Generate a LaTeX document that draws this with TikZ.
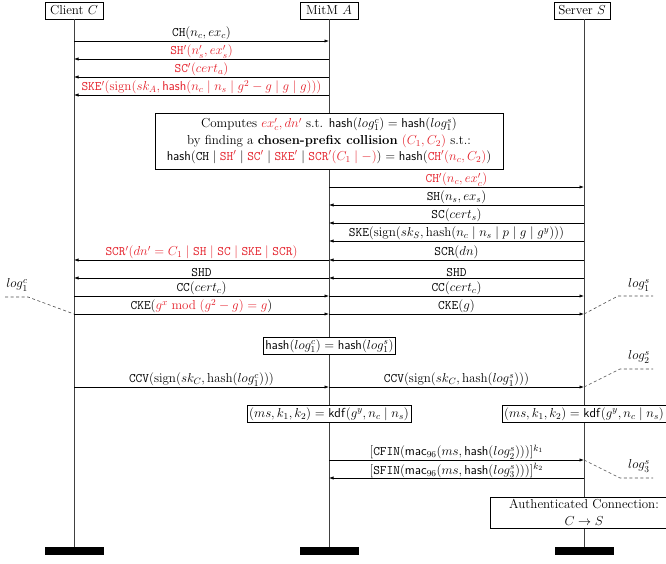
\RequirePackage{fix-cm}
\documentclass[tikz,border=0pt]{standalone}
\usepackage{amsmath,amssymb}
\usetikzlibrary{arrows.meta}
\definecolor{myred}{RGB}{228,32,42}
\newcommand{\tm}[1]{\texttt{#1}}
\begin{document}
\begin{tikzpicture}[x=1pt,y=-1pt,
  font=\fontsize{13}{16.5}\selectfont,
  hdr/.style={draw, fill=white, inner sep=1.5pt, minimum height=17pt},
  bar/.style={fill=black, minimum width=59pt, minimum height=8pt, inner sep=0pt},
  life/.style={draw=black!75, line width=0.6pt},
  msgarr/.style={-{Latex[length=4.5pt,width=3.2pt]}, line width=0.6pt},
  lbl/.style={above, inner sep=0.6pt},
  rlbl/.style={above, inner sep=0.6pt, text=myred},
  infobox/.style={draw, fill=white, align=center, inner sep=3pt, line width=0.6pt},
  logline/.style={draw=black!70, dash pattern=on 3pt off 2.5pt, line width=0.6pt},
  loglbl/.style={inner sep=0pt},
]
\useasboundingbox (0,0) rectangle (666,563);

% participants
\node[hdr, minimum width=58pt] (C) at (74,10.5) {Client $C$};
\node[hdr, minimum width=58pt] (A) at (329,10.5) {MitM $A$};
\node[hdr, minimum width=56pt] (S) at (582,10.5) {Server $S$};
\node[bar] (Cb) at (74.5,551) {};
\node[bar] (Ab) at (329.5,551) {};
\node[bar] (Sb) at (584,551) {};
\draw[life] (C.south) -- (C.south|-Cb.north);
\draw[life] (A.south) -- (A.south|-Ab.north);
\draw[life] (S.south-|Sb.north) -- (Sb.north);

% rows
\foreach \n/\y in {r1/41,r2/59,r3/77,r4/95,r5/187,r6/205,r7/223,r8/241,r9/260,r10/278,r11/296,r12/314,r13/387,r14/460,r15/478}
  \coordinate (\n) at (0,\y);
\coordinate (cx) at (74,0);
\coordinate (ax) at (329,0);
\coordinate (sx) at (584,0);

\node[infobox, minimum width=348pt, minimum height=56pt, inner sep=2pt] (comp) at (329,141)
 {Computes \textcolor{myred}{$ex_c', dn'$} s.t. $\mathsf{hash}(log_1^c) = \mathsf{hash}(log_1^s)$\\
  by finding a \textbf{chosen-prefix collision} \textcolor{myred}{$(C_1, C_2)$} s.t.:\\
  $\mathsf{hash}(\tm{CH} \mid \textcolor{myred}{\tm{SH}'} \mid \textcolor{myred}{\tm{SC}'} \mid \textcolor{myred}{\tm{SKE}'} \mid \textcolor{myred}{\tm{SCR}'(C_1 \mid -)}) = \mathsf{hash}(\textcolor{myred}{\tm{CH}'(n_c, C_2)})$};

% messages
\draw[msgarr] (cx|-r1) -- node[lbl] {\tm{CH}$(n_c, ex_c)$} (ax|-r1);
\draw[msgarr] (ax|-r2) -- node[rlbl] {\tm{SH}$'(n_s', ex_s')$} (cx|-r2);
\draw[msgarr] (ax|-r3) -- node[rlbl] {\tm{SC}$'(cert_a)$} (cx|-r3);
\draw[msgarr] (ax|-r4) -- node[rlbl] {\tm{SKE}$'(\mathrm{sign}(sk_A, \mathsf{hash}(n_c \mid n_s \mid g^2-g \mid g \mid g)))$} (cx|-r4);

\draw[msgarr] (ax|-r5) -- node[rlbl] {\tm{CH}$'(n_c, ex_c')$} (sx|-r5);
\draw[msgarr] (sx|-r6) -- node[lbl] {\tm{SH}$(n_s, ex_s)$} (ax|-r6);
\draw[msgarr] (sx|-r7) -- node[lbl] {\tm{SC}$(cert_s)$} (ax|-r7);
\draw[msgarr] (sx|-r8) -- node[lbl] {\tm{SKE}$(\mathrm{sign}(sk_S, \mathrm{hash}(n_c \mid n_s \mid p \mid g \mid g^y)))$} (ax|-r8);
\draw[msgarr] (sx|-r9) -- node[lbl] {\tm{SCR}$(dn)$} (ax|-r9);
\draw[msgarr] (ax|-r9) -- node[rlbl] {\tm{SCR}$'(dn' = C_1 \mid \tm{SH} \mid \tm{SC} \mid \tm{SKE} \mid \tm{SCR})$} (cx|-r9);
\draw[msgarr] (sx|-r10) -- node[lbl] {\tm{SHD}} (ax|-r10);
\draw[msgarr] (ax|-r10) -- node[lbl] {\tm{SHD}} (cx|-r10);
\draw[msgarr] (cx|-r11) -- node[lbl] {\tm{CC}$(cert_c)$} (ax|-r11);
\draw[msgarr] (ax|-r11) -- node[lbl] {\tm{CC}$(cert_c)$} (sx|-r11);
\draw[msgarr] (cx|-r12) -- node[lbl] {\tm{CKE}(\textcolor{myred}{$g^x \bmod (g^2-g) = g$})} (ax|-r12);
\draw[msgarr] (ax|-r12) -- node[lbl] {\tm{CKE}$(g)$} (sx|-r12);

\node[infobox, inner sep=2pt] (hb) at (329.5,346) {$\mathsf{hash}(log_1^c) = \mathsf{hash}(log_1^s)$};

\draw[msgarr] (cx|-r13) -- node[lbl] {\tm{CCV}$(\mathrm{sign}(sk_C, \mathrm{hash}(log_1^c)))$} (ax|-r13);
\draw[msgarr] (ax|-r13) -- node[lbl] {\tm{CCV}$(\mathrm{sign}(sk_C, \mathrm{hash}(log_1^s)))$} (sx|-r13);

\node[infobox, inner sep=2pt] (kdfa) at (329,414) {$(ms, k_1, k_2) = \mathsf{kdf}(g^y, n_c \mid n_s)$};
\node[infobox, inner sep=2pt] (kdfs) at (584,414) {$(ms, k_1, k_2) = \mathsf{kdf}(g^y, n_c \mid n_s)$};

\draw[msgarr] (ax|-r14) -- node[lbl] {$[\tm{CFIN}(\mathsf{mac}_{96}(ms, \mathsf{hash}(log_2^s)))]^{k_1}$} (sx|-r14);
\draw[msgarr] (sx|-r15) -- node[lbl, inner sep=0pt] {$[\tm{SFIN}(\mathsf{mac}_{96}(ms, \mathsf{hash}(log_3^s)))]^{k_2}$} (ax|-r15);

\node[infobox, minimum width=188pt, minimum height=31pt, inner sep=1pt] (auth) at (584,512.5) {Authenticated Connection:\\ $C \to S$};

% log markers
\coordinate (lc1a) at (5,297);
\coordinate (lc1b) at (28,297);
\draw[logline] (lc1a) -- (lc1b) -- (cx|-r12);
\node[loglbl] (lc1) at (17,285) {$log_1^c$};

\coordinate (ls1a) at (618,296);
\coordinate (ls1b) at (653,296);
\draw[logline] (sx|-r12) -- (ls1a) -- (ls1b);
\node[loglbl] (ls1) at (639,285) {$log_1^s$};

\coordinate (ls2a) at (620,369);
\coordinate (ls2b) at (653,369);
\draw[logline] (sx|-r13) -- (ls2a) -- (ls2b);
\node[loglbl] (ls2) at (639,357) {$log_2^s$};

\coordinate (ls3a) at (620,478);
\coordinate (ls3b) at (653,478);
\draw[logline] (sx|-r14) -- (ls3a) -- (ls3b);
\node[loglbl] (ls3) at (639,466) {$log_3^s$};
\end{tikzpicture}
\end{document}
